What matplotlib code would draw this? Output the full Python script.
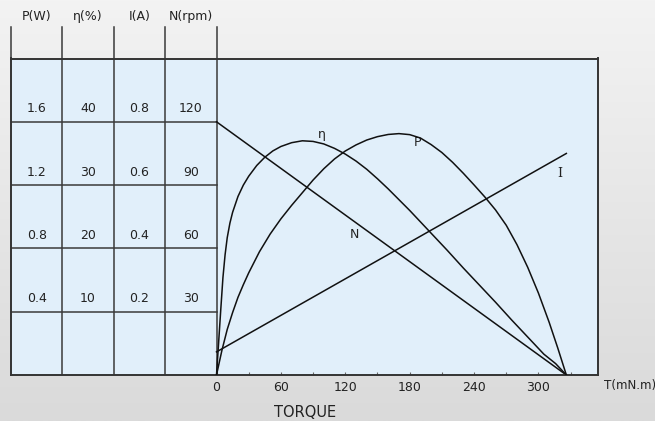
import matplotlib
matplotlib.use("Agg")
import matplotlib.pyplot as plt
import numpy as np
from matplotlib.colors import LinearSegmentedColormap

# table columns (value labels drawn on the left side of the box)
headers = ["P(W)", "η(%)", "I(A)", "N(rpm)"]
power_labels = ["0.4", "0.8", "1.2", "1.6"]
eff_labels = ["10", "20", "30", "40"]
current_labels = ["0.2", "0.4", "0.6", "0.8"]
speed_labels = ["30", "60", "90", "120"]
speed_rows = [30, 60, 90, 120]

x_ticks = [0, 60, 120, 180, 240, 300]

# speed line N(rpm)
torque_n = [0, 326]
speed_n = [120, 0]

# current line I(A)
torque_i = [0, 326]
current_i = [0.073, 0.70]

# efficiency curve eta(%)
torque_eta = [0, 2, 4, 6, 8, 10, 12.5, 15, 20, 25, 30, 37.5, 45, 52.5, 60, 70, 80, 90,
              100, 110, 120, 130, 140, 150, 160, 170, 180, 190, 200, 215, 230, 245,
              260, 275, 290, 305, 316, 326]
eta = [0, 5.2, 10.4, 15.4, 19.0, 21.7, 24.0, 25.7, 28.2, 30.0, 31.4, 33.1, 34.4, 35.4,
       36.1, 36.7, 37.0, 36.9, 36.5, 35.8, 34.9, 33.8, 32.5, 31.0, 29.4, 27.7, 26.0,
       24.2, 22.4, 19.7, 16.9, 14.2, 11.5, 8.7, 6.0, 3.3, 1.8, 0]

# output power curve P(W)
torque_p = [0, 5, 10, 15, 20, 25, 30, 40, 50, 60, 70, 80, 90, 100, 110, 120, 130, 140,
            150, 160, 170, 180, 190, 200, 210, 220, 230, 240, 250, 260, 270, 280, 290,
            300, 310, 318, 326]
power_p = [0, 0.145, 0.27, 0.37, 0.46, 0.535, 0.605, 0.73, 0.835, 0.925, 1.005, 1.08,
           1.155, 1.222, 1.28, 1.327, 1.363, 1.392, 1.412, 1.425, 1.43, 1.424, 1.404,
           1.365, 1.318, 1.26, 1.195, 1.126, 1.055, 0.978, 0.887, 0.772, 0.638, 0.485,
           0.312, 0.16, 0]

W, H = 655, 421
fig = plt.figure(figsize=(W / 100, H / 100), dpi=100)

bg = fig.add_axes([0, 0, 1, 1], zorder=-10)
grad = np.linspace(0, 1, 256).reshape(-1, 1)
bg.imshow(grad, aspect="auto", extent=[0, 1, 0, 1],
          cmap=LinearSegmentedColormap.from_list("bg", ["#f3f3f3", "#dadada"]))
bg.axis("off")

box_l, box_r, box_t, box_b = 11, 598, 58.5, 375
ax = fig.add_axes([box_l / W, (H - box_b) / H, (box_r - box_l) / W, (box_b - box_t) / H])
ax.set_xlim(-191.5, 355.5)
ax.set_ylim(0, 150)
ax.set_facecolor("#e1effa")
for sp in ax.spines.values():
    sp.set_color("#333333")
    sp.set_linewidth(1.4)

ax.set_xticks(x_ticks, [str(t) for t in x_ticks])
ax.set_xticks(np.arange(30, 331, 60), minor=True)
ax.set_yticks([])
ax.tick_params(axis="x", which="both", direction="in", length=2.5, width=0.8,
               color="#666666", labelsize=9, labelcolor="#222222", pad=4)

# table grid
col_w = 47.9
col_x = [-191.5 + i * col_w for i in range(5)]
line_kw = dict(color="#3a3a3a", linewidth=1.1)
for x in col_x[1:]:
    ax.plot([x, x], [0, 150], **line_kw)
for x in col_x:
    ax.plot([x, x], [150, 164.9], clip_on=False, **line_kw)
for y in speed_rows:
    ax.plot([col_x[0], 0], [y, y], **line_kw)

columns = [power_labels, eff_labels, current_labels, speed_labels]
for ci, labels in enumerate(columns):
    xc = col_x[ci] + col_w / 2
    for y, lab in zip(speed_rows, labels):
        ax.text(xc, y + 6.2, lab, ha="center", va="center", fontsize=9, color="#222222")
    ax.text(xc, 170.0, headers[ci], ha="center", va="center", fontsize=9,
            color="#222222", clip_on=False)

# curves
curve_kw = dict(color="#111111", linewidth=1.1, solid_joinstyle="round")
ax.plot(torque_n, speed_n, **curve_kw)

ax_i = ax.twinx()
ax_i.set_ylim(0, 1.0)
ax_i.plot(torque_i, current_i, **curve_kw)

ax_eta = ax.twinx()
ax_eta.set_ylim(0, 50)
ax_eta.plot(torque_eta, eta, **curve_kw)

ax_p = ax.twinx()
ax_p.set_ylim(0, 1.875)
ax_p.plot(torque_p, power_p, **curve_kw)

for a in (ax_i, ax_eta, ax_p):
    a.set_yticks([])
    for sp in a.spines.values():
        sp.set_visible(False)

ax.text(98.3, 114.2, "η", ha="center", va="center", fontsize=9, color="#222222")
ax.text(187.7, 110.4, "P", ha="center", va="center", fontsize=9, color="#222222")
ax.text(320.1, 95.7, "I", ha="center", va="center", fontsize=9, color="#222222",
        family="DejaVu Serif")
ax.text(129.0, 66.4, "N", ha="center", va="center", fontsize=9, color="#222222")

fig.text(604 / W, (H - 385) / H, "T(mN.m)", ha="left", va="center", fontsize=8.6,
         color="#222222")
fig.text(305 / W, (H - 412.5) / H, "TORQUE", ha="center", va="center", fontsize=10.5,
         color="#222222")

fig.savefig("out.png", dpi=100)
